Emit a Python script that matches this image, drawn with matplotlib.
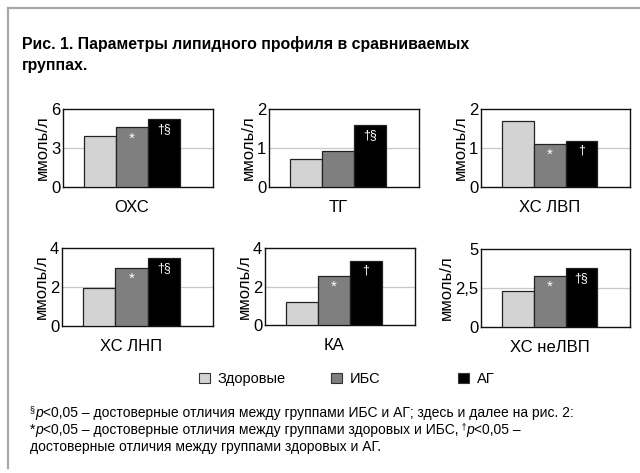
import matplotlib
matplotlib.use("Agg")
import matplotlib.pyplot as plt
from matplotlib.lines import Line2D
from matplotlib.patches import Patch

plt.rcParams["font.family"] = ["Liberation Sans", "DejaVu Sans"]

# --- data ---
params = ["ОХС", "ТГ", "ХС ЛВП", "ХС ЛНП", "КА", "ХС неЛВП"]
healthy = [3.9, 0.71, 1.69, 1.93, 1.2, 2.28]
ibs = [4.6, 0.93, 1.11, 2.97, 2.54, 3.27]
ag = [5.2, 1.58, 1.19, 3.5, 3.34, 3.8]
y_ticks = [[0, 3, 6], [0, 1, 2], [0, 1, 2], [0, 2, 4], [0, 2, 4], [0, 2.5, 5]]
y_ticklabels = [["0", "3", "6"], ["0", "1", "2"], ["0", "1", "2"],
                ["0", "2", "4"], ["0", "2", "4"], ["0", "2,5", "5"]]
ibs_marks = ["*", "", "*", "*", "*", "*"]
ag_marks = ["†§", "†§", "†", "†§", "†", "†§"]

groups = ["Здоровые", "ИБС", "АГ"]
colors = ["#d3d3d3", "#7f7f7f", "#000000"]

title_lines = ["Рис. 1. Параметры липидного профиля в сравниваемых", "группах."]
# footnote lines as (text, kind) pieces: "n" normal, "i" italic, "s" superscript
notes = [
    [("§", "s"), ("p", "i"),
     ("<0,05 – достоверные отличия между группами ИБС и АГ; здесь и далее на рис. 2:", "n")],
    [("*", "n"), ("p", "i"),
     ("<0,05 – достоверные отличия между группами здоровых и ИБС,", "n"),
     (" †", "s"), ("p", "i"), ("<0,05 –", "n")],
    [("достоверные отличия между группами здоровых и АГ.", "n")],
]

W, H = 640, 473
# axes boxes in pixels (x0, y0, x1, y1)
boxes = [(63, 109, 213, 187), (269, 109, 419, 187), (481, 109, 630, 187),
         (62, 248, 213, 326), (265, 248, 415, 325), (481, 249, 630, 327)]


def px_rect(x0, y0, x1, y1):
    return [x0 / W, 1 - y1 / H, (x1 - x0) / W, (y1 - y0) / H]


fig = plt.figure(figsize=(W / 100, H / 100), dpi=100)
renderer = fig.canvas.get_renderer()

# grey frame on top and left
fig.add_artist(Line2D([8 / W, 8 / W], [1 - 8 / H, 1 - 468 / H], color="#a8a8a8",
                      lw=1.6, transform=fig.transFigure))
fig.add_artist(Line2D([8 / W, 1], [1 - 8 / H, 1 - 8 / H], color="#a8a8a8",
                      lw=1.6, transform=fig.transFigure))

for k, line in enumerate(title_lines):
    fig.text(22 / W, 1 - (49 + 21 * k) / H, line,
             fontsize=11.4, fontweight="bold", va="baseline", ha="left")

xpos = [-1, 0, 1]
for i, name in enumerate(params):
    ax = fig.add_axes(px_rect(*boxes[i]))
    vals = [healthy[i], ibs[i], ag[i]]
    ax.bar(xpos, vals, width=1.0, color=colors, edgecolor="#222222",
           linewidth=0.9, zorder=3)
    ax.set_xlim(-2.16, 2.53)
    ax.set_ylim(y_ticks[i][0], y_ticks[i][-1])
    ax.set_yticks(y_ticks[i])
    ax.set_yticklabels(y_ticklabels[i], fontsize=12)
    ax.set_xticks([0])
    ax.set_xticklabels([name], fontsize=12)
    ax.tick_params(axis="both", length=0)
    ax.tick_params(axis="y", pad=2)
    ax.tick_params(axis="x", pad=9)
    ax.axhline(y_ticks[i][1], color="#c8c8c8", lw=0.9, zorder=1)
    for s in ax.spines.values():
        s.set_color("#111111")
        s.set_linewidth(1.0)
    ax.set_ylabel("ммоль/л", fontsize=12, labelpad=1)
    for x, v, m in zip(xpos[1:], vals[1:], [ibs_marks[i], ag_marks[i]]):
        if m:
            fs = 11 if m == "*" else 9
            ax.annotate(m, xy=(x, v), xytext=(0, -3), textcoords="offset points",
                        ha="center", va="top", color="white", fontsize=fs, zorder=4)

# legend entries spaced evenly like the original
leg_x = [199, 331, 458]
for g, c, lx in zip(groups, colors, leg_x):
    fig.legend(handles=[Patch(facecolor=c, edgecolor="#333333", lw=0.8)],
               labels=[g], loc="center left",
               bbox_to_anchor=(lx / W, 1 - 379 / H), frameon=False,
               fontsize=10.5, handlelength=0.75, handleheight=0.75,
               handletextpad=0.55, borderpad=0, borderaxespad=0)

# footnote, piece by piece so superscripts and italics line up
for k, pieces in enumerate(notes):
    x = 30.0
    base = 417 + 17 * k
    for txt, kind in pieces:
        fs = 6.5 if kind == "s" else 10
        dy = -4.5 if kind == "s" else 0
        t = fig.text(x / W, 1 - (base + dy) / H, txt, fontsize=fs,
                     style="italic" if kind == "i" else "normal",
                     va="baseline", ha="left")
        x += t.get_window_extent(renderer).width

fig.savefig("out.png", dpi=100)
